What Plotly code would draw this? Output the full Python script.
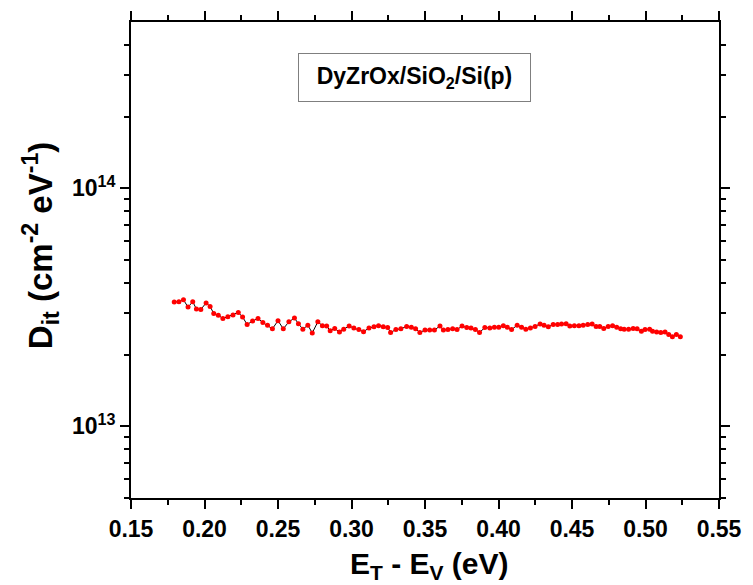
import plotly.graph_objects as go

# Trap energy relative to the valence band edge (eV)
energy_ev = [
    0.1794, 0.1826, 0.1857, 0.1888, 0.1920, 0.1945, 0.1975, 0.2011, 0.2038, 0.2063,
    0.2094, 0.2125, 0.2159, 0.2194, 0.2230, 0.2259, 0.2290, 0.2327, 0.2364, 0.2397,
    0.2429, 0.2462, 0.2500, 0.2536, 0.2574, 0.2612, 0.2639, 0.2669, 0.2703, 0.2733,
    0.2771, 0.2802, 0.2831, 0.2855, 0.2886, 0.2918, 0.2947, 0.2984, 0.3016, 0.3050,
    0.3082, 0.3119, 0.3153, 0.3184, 0.3216, 0.3246, 0.3266, 0.3302, 0.3336, 0.3375,
    0.3407, 0.3436, 0.3465, 0.3500, 0.3532, 0.3564, 0.3602, 0.3625, 0.3656, 0.3688,
    0.3718, 0.3752, 0.3784, 0.3813, 0.3843, 0.3871, 0.3907, 0.3941, 0.3972, 0.4002,
    0.4033, 0.4060, 0.4089, 0.4127, 0.4157, 0.4186, 0.4217, 0.4249, 0.4283, 0.4310,
    0.4339, 0.4372, 0.4402, 0.4429, 0.4460, 0.4485, 0.4516, 0.4547, 0.4576, 0.4607,
    0.4637, 0.4664, 0.4689, 0.4716, 0.4746, 0.4776, 0.4804, 0.4831, 0.4855, 0.4885,
    0.4916, 0.4943, 0.4972, 0.4997, 0.5028, 0.5048, 0.5076, 0.5104, 0.5133, 0.5158,
    0.5183, 0.5210, 0.5237,
]

# Interface trap density (cm^-2 eV^-1)
dit = [
    3.33e13, 3.34e13, 3.40e13, 3.17e13, 3.34e13, 3.11e13, 3.10e13, 3.30e13, 3.19e13, 2.98e13,
    2.93e13, 2.84e13, 2.89e13, 2.94e13, 3.01e13, 2.88e13, 2.68e13, 2.77e13, 2.84e13, 2.73e13,
    2.66e13, 2.57e13, 2.78e13, 2.57e13, 2.75e13, 2.85e13, 2.70e13, 2.56e13, 2.66e13, 2.47e13,
    2.75e13, 2.65e13, 2.64e13, 2.52e13, 2.58e13, 2.49e13, 2.56e13, 2.64e13, 2.59e13, 2.55e13,
    2.50e13, 2.59e13, 2.62e13, 2.65e13, 2.62e13, 2.60e13, 2.48e13, 2.55e13, 2.57e13, 2.63e13,
    2.61e13, 2.57e13, 2.48e13, 2.54e13, 2.54e13, 2.54e13, 2.64e13, 2.54e13, 2.55e13, 2.57e13,
    2.55e13, 2.64e13, 2.60e13, 2.59e13, 2.55e13, 2.48e13, 2.60e13, 2.59e13, 2.61e13, 2.61e13,
    2.65e13, 2.61e13, 2.55e13, 2.66e13, 2.61e13, 2.56e13, 2.59e13, 2.63e13, 2.69e13, 2.66e13,
    2.62e13, 2.68e13, 2.68e13, 2.69e13, 2.70e13, 2.64e13, 2.65e13, 2.65e13, 2.66e13, 2.68e13,
    2.69e13, 2.63e13, 2.63e13, 2.58e13, 2.63e13, 2.65e13, 2.61e13, 2.57e13, 2.56e13, 2.56e13,
    2.58e13, 2.57e13, 2.51e13, 2.55e13, 2.56e13, 2.51e13, 2.49e13, 2.48e13, 2.49e13, 2.43e13,
    2.38e13, 2.43e13, 2.38e13,
]

x_ticks = [0.15, 0.20, 0.25, 0.30, 0.35, 0.40, 0.45, 0.50, 0.55]
x_tick_labels = ["0.15", "0.20", "0.25", "0.30", "0.35", "0.40", "0.45", "0.50", "0.55"]
x_minor_ticks = [0.175, 0.225, 0.275, 0.325, 0.375, 0.425, 0.475, 0.525]
y_ticks = [1e13, 1e14]
y_tick_labels = ["10<sup>13</sup>", "10<sup>14</sup>"]
y_minor_ticks = [m * 1e12 for m in range(5, 10)] + [m * 1e13 for m in range(2, 10)] + [m * 1e14 for m in range(2, 5)]

sample_label = "DyZrOx/SiO<sub>2</sub>/Si(p)"
x_title = "E<sub>T</sub> - E<sub>V</sub> (eV)"
y_title = "D<sub>it</sub> (cm<sup>-2</sup> eV<sup>-1</sup>)"

FONT = "Liberation Sans, Arial, sans-serif"

fig = go.Figure()
fig.add_trace(go.Scatter(
    x=energy_ev, y=dit,
    mode="lines+markers",
    line=dict(color="black", width=1),
    marker=dict(color="#ff0000", size=5, line=dict(width=0)),
    showlegend=False,
))

axis_common = dict(
    showline=True, linecolor="black", linewidth=2,
    mirror="allticks", ticks="outside", ticklen=9, tickwidth=2, tickcolor="black",
    showgrid=False, zeroline=False,
)

fig.update_xaxes(
    range=[0.15, 0.55],
    tickmode="array", tickvals=x_ticks, ticktext=x_tick_labels,
    tickfont=dict(family=FONT, size=23, color="black", weight="bold"),
    minor=dict(tickmode="array", tickvals=x_minor_ticks, ticks="outside",
               ticklen=5, tickwidth=2, tickcolor="black", showgrid=False),
    **axis_common,
)

fig.update_yaxes(
    type="log",
    range=[12.699, 14.699],
    tickmode="array", tickvals=y_ticks, ticktext=y_tick_labels,
    tickfont=dict(family=FONT, size=23, color="black", weight="bold"),
    minor=dict(tickmode="array", tickvals=y_minor_ticks, ticks="outside",
               ticklen=5, tickwidth=2, tickcolor="black", showgrid=False),
    **axis_common,
)

# Axis titles
fig.add_annotation(
    xref="paper", yref="paper", x=0.5076, y=-0.099,
    xanchor="center", yanchor="top", showarrow=False,
    text=x_title,
    font=dict(family=FONT, size=30, color="black", weight="bold"),
)
fig.add_annotation(
    xref="paper", yref="paper", x=-0.154, y=0.53,
    xanchor="center", yanchor="middle", showarrow=False, textangle=-90,
    text=y_title,
    font=dict(family=FONT, size=33, color="black", weight="bold"),
)

# Sample label box
fig.add_annotation(
    xref="paper", yref="paper", x=0.4828, y=0.884,
    xanchor="center", yanchor="middle",
    text=sample_label, showarrow=False,
    font=dict(family=FONT, size=23, color="black", weight="bold"),
    bordercolor="#7f7f7f", borderwidth=1, borderpad=0,
    width=231, height=47, bgcolor="white",
)

fig.update_layout(
    width=753, height=585,
    margin=dict(l=131, r=31, t=11, b=87),
    paper_bgcolor="white", plot_bgcolor="white",
)

fig.write_html("out.html")
